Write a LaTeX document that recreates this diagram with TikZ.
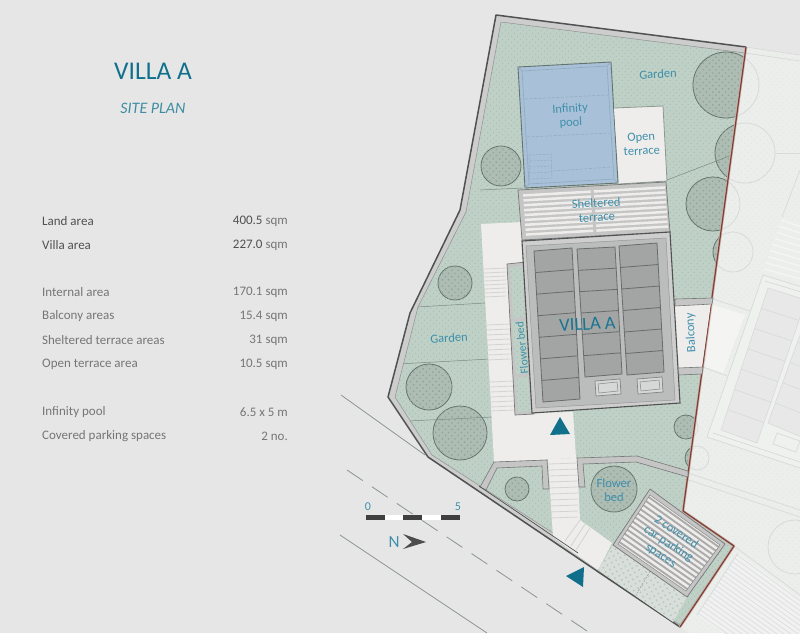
\documentclass[tikz,border=0pt]{standalone}
\usepackage{fontspec}
\setmainfont{Carlito}
\usetikzlibrary{calc,patterns,patterns.meta}
\definecolor{pagebg}{HTML}{E6E6E6}
\definecolor{nbbg}{HTML}{ECEEEC}
\definecolor{nbdot}{HTML}{E3E6E4}
\definecolor{nbline}{HTML}{D8DAD9}
\definecolor{nbpanel}{HTML}{E7E8E7}
\definecolor{nbwhite}{HTML}{F4F4F2}
\definecolor{band}{HTML}{CCCDCC}
\definecolor{edgedark}{HTML}{505252}
\definecolor{green}{HTML}{BFD1C6}
\definecolor{greendot}{HTML}{A3B8AB}
\definecolor{treefill}{HTML}{ADBDB3}
\definecolor{treedot}{HTML}{93A59B}
\definecolor{treeline}{HTML}{64736C}
\definecolor{pool}{HTML}{A9C1D8}
\definecolor{poolin}{HTML}{8FA9BC}
\definecolor{pale}{HTML}{EEEDEB}
\definecolor{wallg}{HTML}{C4C5C4}
\definecolor{wallline}{HTML}{777878}
\definecolor{roof}{HTML}{BBBCBC}
\definecolor{panelg}{HTML}{A3A4A4}
\definecolor{panell}{HTML}{6A6B6B}
\definecolor{teal}{HTML}{10708C}
\definecolor{lab}{HTML}{3F8FAB}
\definecolor{redl}{HTML}{7A3F37}
\definecolor{redh}{HTML}{CFB0A8}
\definecolor{pavers}{HTML}{D8DEDA}
\definecolor{paverd}{HTML}{B9C4BD}
\definecolor{txtd}{HTML}{505050}
\definecolor{txtl}{HTML}{767676}
\tikzset{
  x=1pt,y=-1pt,
  lbl/.style={text=lab,inner sep=0pt,align=center,rotate=3,font=\fontsize{12.5}{14}\selectfont},
  rowl/.style={inner sep=0pt,anchor=west,font=\fontsize{13}{15}\selectfont},
  rowr/.style={inner sep=0pt,anchor=east,font=\fontsize{13}{15}\selectfont},
  gardenfill/.style={fill=green,postaction={pattern={Dots[distance=4pt,radius=0.6pt,angle=45]},pattern color=greendot}},
  nbfill/.style={fill=nbbg,postaction={pattern={Dots[distance=4pt,radius=0.6pt,angle=45]},pattern color=nbdot}},
  treeshape/.style={fill=treefill,draw=treeline,line width=0.8pt,postaction={pattern={Dots[distance=4.5pt,radius=1pt,angle=45]},pattern color=treedot}},
  treefaint/.style={draw=nbline,line width=0.8pt,fill=nbbg,postaction={pattern={Dots[distance=4.5pt,radius=0.8pt,angle=45]},pattern color=nbdot}},
  wallband/.style={fill=wallg,draw=wallline,line width=0.6pt},
  thinline/.style={draw=treeline!75!green,line width=0.5pt},
  nbthin/.style={draw=nbline,line width=0.7pt},
  steps/.style={draw=band!80!pale,line width=0.8pt},
  marker/.style={fill=teal,draw=none},
}
% quad with subdivisions: corners tl tr br bl, rows
\newcommand{\rowquad}[6]{%
  \draw[#6] (#1) -- (#2) -- (#3) -- (#4) -- cycle;
  \foreach \k in {1,...,\numexpr#5-1\relax}{%
    \draw[#6,fill=none] ($(#1)!\k/#5!(#4)$) -- ($(#2)!\k/#5!(#3)$);}%
}
% stripes between edges a-d and b-c
\newcommand{\stripeset}[7]{%
  \foreach \k in {1,...,#5}{%
    \draw[#6,line width=#7] ($(#1)!{(\k-0.5)/#5}!(#4)$) -- ($(#2)!{(\k-0.5)/#5}!(#3)$);}%
}
\begin{document}
\begin{tikzpicture}
\path[use as bounding box] (0,0) rectangle (800,633);
\clip (0,0) rectangle (800,633);
\fill[pagebg] (0,0) rectangle (800,633);

% --- neighbouring plot (faded) ---
\path[nbfill] (746,47) -- (800,55) -- (800,633) -- (690,633) -- (680,627) -- (734,546) -- (683,511) -- cycle;
\draw[nbthin] (746,47) -- (800,55);
\draw[nbthin] (745,53) -- (800,61);
\draw[nbthin] (745,153) -- (800,153);
\draw[nbthin] (800,170) -- (782,217);
% neighbour sheltered terrace
\coordinate (ta) at (782,217); \coordinate (tb) at (815,228); \coordinate (tc) at (800,282); \coordinate (td) at (763,272);
\fill[nbbg] (ta) -- (tb) -- (tc) -- (td) -- cycle;
\stripeset{ta}{tb}{tc}{td}{9}{nbwhite}{1.6pt}
% neighbour villa
\fill[nbwhite] (713,305) -- (745,315) -- (723,373) -- (705,367) -- cycle;
\draw[nbthin] (713,299) -- (750,311);
\draw[nbthin] (703,367) -- (727,376);
\draw[nbthin,fill=nbbg!85!white] (763,275) -- (860,305) -- (800,468) -- (707,437) -- cycle;
\draw[nbthin] (765,281) -- (860,310);
\draw[nbthin] (713,433) -- (800,462);
\coordinate (na) at (768,288); \coordinate (nb) at (806,300); \coordinate (nc) at (757,443); \coordinate (nd) at (721,430);
\rowquad{na}{nb}{nc}{nd}{7}{draw=nbline,fill=nbpanel,line width=0.6pt}
\coordinate (oa) at (812,302); \coordinate (ob) at (850,314); \coordinate (oc) at (804,438); \coordinate (od) at (768,423);
\rowquad{oa}{ob}{oc}{od}{6}{draw=nbline,fill=nbpanel,line width=0.6pt}
\draw[nbthin,fill=nbbg!85!white] (777,433) -- (800,441) -- (796,452) -- (773,444) -- cycle;
% neighbour walls and parking
\draw[nbthin] (688,473) -- (800,510);
\draw[nbthin] (686,479) -- (800,517);
\coordinate (pa) at (738,553); \coordinate (pb) at (830,620); \coordinate (pc) at (790,680); \coordinate (pd) at (697,615);
\fill[nbbg!80!white] (pa) -- (pb) -- (pc) -- (pd) -- cycle;
\stripeset{pa}{pb}{pc}{pd}{18}{nbline!75!nbbg}{0.7pt}
\draw[nbthin] (pa) -- (pd);
\draw[nbthin] (734,546) -- (800,595);
\foreach \x/\y/\r in {726/85/33,745/153/30,713/204/27,733/252/20,686/427/12,697/458/12,795/547/27}{
  \path[treefaint] (\x,\y) circle[radius=\r];
}

% --- road ---
\draw[draw=treeline!70!pagebg,line width=0.8pt] (341,395) -- (425,455);
\draw[draw=treeline!70!pagebg,line width=0.8pt] (340,535) -- (487,633);
\coordinate (rd1) at (347,470); \coordinate (rd2) at (590,633);
\draw[draw=treeline!70!pagebg,line width=0.8pt,dash pattern=on 19pt off 11pt] (rd1) -- (rd2);

% --- plot ---
\path[fill=band] (496,15) -- (746,47) -- (683,511) -- (734,546) -- (680,627) -- (428,457) -- (388,397) -- (410,313) -- (460,210) -- cycle;
\path[gardenfill,draw=wallline!70!band,line width=0.5pt] (501,22) -- (745,53) -- (683,511) -- (733,546) -- (680,625) -- (578,556) -- (553,533) -- (432,455) -- (395,397) -- (418,307) -- (466,212) -- cycle;
\begin{scope}
  \clip (501,22) -- (745,53) -- (683,511) -- (733,546) -- (680,625) -- (578,556) -- (553,533) -- (432,455) -- (395,397) -- (418,307) -- (466,212) -- cycle;
  \foreach \x/\y/\r in {726/85/33,745/153/30,713/204/27,733/252/20,501/166/20,455/283/17,429/387/23,460/433/27,686/427/12,697/458/12,517/489/12,614/489/23}{
    \path[treeshape] (\x,\y) circle[radius=\r];
  }
  \draw[thinline] (480,190) -- (523,188);
  \draw[thinline] (667,180) -- (745,150);
  \draw[thinline] (417,307) -- (485,303);
  \draw[thinline] (398,364) -- (490,359);
  \draw[thinline] (408,421) -- (493,417);
\end{scope}
\draw[edgedark,line width=1.5pt,line join=round] (746,47) -- (496,15) -- (460,210) -- (410,313) -- (388,397) -- (428,457) -- (680,627);
\draw[redh,line width=2.6pt,line join=round] (746,47) -- (683,511) -- (734,546) -- (680,627);
\draw[redl,line width=1.2pt,line join=round] (746,47) -- (683,511) -- (734,546) -- (680,627);

% --- white paths ---
\path[fill=pale] (481,224) -- (522,222) -- (532,413) -- (573,412) -- (576,458) -- (494,462) -- cycle;
\path[fill=pale] (548,459) -- (577,458) -- (580,520) -- (612,543) -- (598,570) -- (578,556) -- (553,537) -- cycle;
\foreach \y in {269,273,277,281,285,289,293,297}{\draw[steps] (484,\y) -- (506,\y-1);}
\foreach \y in {325,330,335,340,345,350,355,360}{\draw[steps] (487,\y) -- (510,\y-1);}
\foreach \y in {382,387,392,397,402,407,411}{\draw[steps] (490,\y) -- (514,\y-1);}
\foreach \y in {464,470,476,482,488,494,500,506,512,518}{\draw[steps] (549,\y) -- (578,\y-1);}
\draw[steps] (580,520) -- (565,541); \draw[steps] (585,524) -- (571,546); \draw[steps] (590,528) -- (576,550);

% --- inner walls ---
\path[wallband] (480,487) -- (494,462) -- (547,460) -- (549,489) -- (543,489) -- (542,466) -- (497,468) -- (486,490) -- cycle;
\path[wallband] (579,487) -- (577,458) -- (637,456) -- (688,471) -- (688,477) -- (636,462) -- (583,464) -- (585,487) -- cycle;
\draw[edgedark,line width=0.7pt] (479,486) -- (578,553);

% --- pool ---
\coordinate (pl1) at (518,67); \coordinate (pl2) at (611,62); \coordinate (pl3) at (618,183); \coordinate (pl4) at (525,188);
\draw[fill=pool,draw=treeline,line width=0.9pt] (pl1) -- (pl2) -- (pl3) -- (pl4) -- cycle;
\draw[poolin,line width=0.6pt] (522,71) -- (607,66) -- (614,179) -- (529,184) -- cycle;
\draw[poolin,line width=0.5pt] (pl1) -- (522,71); \draw[poolin,line width=0.5pt] (pl2) -- (607,66);
\draw[poolin,line width=0.5pt] (pl3) -- (614,179); \draw[poolin,line width=0.5pt] (pl4) -- (529,184);
\draw[poolin,line width=0.5pt,dash pattern=on 3pt off 1.5pt] (525,99) -- (608,95);
\draw[poolin,line width=0.5pt,dash pattern=on 3pt off 1.5pt] (527,137) -- (610,133);
\draw[poolin,line width=0.5pt,dash pattern=on 3pt off 1.5pt] (553,171) -- (612,167);
\draw[poolin,line width=0.5pt,dash pattern=on 2pt off 1.5pt] (529,155) -- (551,154) -- (552,178) -- (530,179) -- cycle;
\foreach \y in {161,167,173}{\draw[poolin,line width=0.5pt,dash pattern=on 2pt off 1.5pt] (530,\y) -- (552,\y-1);}

% --- open terrace ---
\draw[fill=pale,draw=treeline!70!pale,line width=0.8pt] (614,108) -- (663,106) -- (667,181) -- (619,184);

% --- sheltered terrace ---
\coordinate (sa) at (518,190); \coordinate (sb) at (666,182); \coordinate (sc) at (670,232); \coordinate (sd) at (522,240);
\draw[fill=wallg,draw=wallline,line width=0.7pt] (sa) -- (sb) -- (sc) -- (sd) -- cycle;
\coordinate (si) at (523,193); \coordinate (sj) at (665,185); \coordinate (sk) at (668,229); \coordinate (sl) at (526,237);
\stripeset{si}{sj}{sk}{sl}{9}{pale}{2.5pt}
\draw[wallg,line width=3pt] (592,188) -- (595,234);

% --- flower bed beside villa ---
\path[fill=wallg,draw=wallline,line width=0.7pt] (507,264) -- (526,262) -- (534,414) -- (515,415) -- cycle;
\path[gardenfill] (510,267) -- (523,266) -- (525,317) -- (513,318) -- cycle;
\path[gardenfill] (512,322) -- (526,321) -- (528,373) -- (516,374) -- cycle;
\path[gardenfill] (515,378) -- (528,377) -- (531,411) -- (518,412) -- cycle;

% --- villa ---
\coordinate (va) at (522,241); \coordinate (vb) at (670,232); \coordinate (vc) at (680,403); \coordinate (vd) at (532,413);
\draw[fill=wallg!85!white,draw=edgedark,line width=1.1pt] (va) -- (vb) -- (vc) -- (vd) -- cycle;
\draw[fill=roof,draw=roof!80!black,line width=0.5pt] (526,246) -- (666,238) -- (675,400) -- (536,408) -- cycle;
\coordinate (c1a) at (534,251); \coordinate (c1b) at (572,248); \coordinate (c1c) at (580,399); \coordinate (c1d) at (543,402);
\rowquad{c1a}{c1b}{c1c}{c1d}{7}{draw=panell,fill=panelg,line width=0.8pt}
\coordinate (c2a) at (577,249); \coordinate (c2b) at (615,247); \coordinate (c2c) at (622,374); \coordinate (c2d) at (585,377);
\rowquad{c2a}{c2b}{c2c}{c2d}{6}{draw=panell,fill=panelg,line width=0.8pt}
\coordinate (c3a) at (619,246); \coordinate (c3b) at (657,243); \coordinate (c3c) at (664,372); \coordinate (c3d) at (627,375);
\rowquad{c3a}{c3b}{c3c}{c3d}{6}{draw=panell,fill=panelg,line width=0.8pt}
\draw[fill=roof!60!white,draw=panell!70!roof,line width=0.7pt] (595,381) -- (620,379) -- (621,394) -- (596,396) -- cycle;
\draw[draw=panell!70!roof,line width=0.5pt] (598,384) -- (617,382) -- (618,391) -- (599,393) -- cycle;
\draw[fill=roof!60!white,draw=panell!70!roof,line width=0.7pt] (637,379) -- (662,377) -- (663,392) -- (638,394) -- cycle;
\draw[draw=panell!70!roof,line width=0.5pt] (640,382) -- (659,380) -- (660,389) -- (641,391) -- cycle;

% --- balcony ---
\path[fill=pale] (675,305) -- (711,303) -- (702,367) -- (679,369) -- cycle;
\path[fill=wallg,draw=wallline,line width=0.6pt] (675,299) -- (713,298) -- (712,304) -- (675,306) -- cycle;
\path[fill=wallg,draw=wallline,line width=0.6pt] (678,368) -- (703,367) -- (702,374) -- (679,375) -- cycle;

% --- pavers and car park ---
\path[fill=pavers,postaction={pattern={Dots[distance=5pt,radius=1pt,angle=30]},pattern color=paverd}] (598,570) -- (613,545) -- (687,597) -- (673,622) -- cycle;
\draw[treeline!60!pavers,line width=0.5pt,dash pattern=on 2pt off 1.5pt] (652,568) -- (637,593);
\coordinate (ca) at (650,489); \coordinate (cb) at (725,544); \coordinate (cc) at (687,597); \coordinate (cd) at (613,545);
\draw[fill=wallg,draw=wallline,line width=0.7pt] (ca) -- (cb) -- (cc) -- (cd) -- cycle;
\coordinate (ci) at (650,495); \coordinate (cj) at (720,545); \coordinate (ck) at (686,591); \coordinate (cl) at (618,544);
\fill[pale] (ci) -- (cj) -- (ck) -- (cl) -- cycle;
\stripeset{ci}{cj}{ck}{cl}{12}{panelg!80!wallg}{1.9pt}
\draw[wallline!80!wallg,line width=0.5pt] (ci) -- (cj) -- (ck) -- (cl) -- cycle;

% --- direction markers ---
\path[marker] (560,417) -- (570,434) -- (550,435) -- cycle;
\path[marker] (584,567) -- (583,587) -- (566,576) -- cycle;

% --- scale and north ---
\fill[white] (366,514.5) rectangle (460,519.5);
\foreach \a/\b in {366/385,403/422,441/460}{\fill[black!75] (\a,514.5) rectangle (\b,519.5);}
\node[text=lab,inner sep=0pt,font=\fontsize{12}{14}\selectfont] (sc0) at (368,507) {0};
\node[text=lab,inner sep=0pt,font=\fontsize{12}{14}\selectfont] (sc5) at (458,507) {5};
\node[text=lab,inner sep=0pt,font=\fontsize{17}{19}\selectfont] (north) at (394,542) {N};
\path[fill=black!70] (403,534) -- (426,542) -- (403,549) -- (412,542) -- cycle;

% --- labels on the plan ---
\node[lbl] (lgt) at (658,74) {Garden};
\node[lbl] (lpool) at (570.5,116) {Infinity\\pool};
\node[lbl] (lopen) at (641.5,144) {Open\\terrace};
\node[lbl] (lshel) at (596.5,210) {Sheltered\\terrace};
\node[lbl] (lgl) at (449,338) {Garden};
\node[lbl,font=\fontsize{18.5}{20}\selectfont,text=teal!85!lab] (lvil) at (587.5,324) {VILLA A};
\node[lbl,rotate=93,font=\fontsize{11.5}{13}\selectfont] (lfb) at (522,348) {Flower bed};
\node[lbl,rotate=90] (lbal) at (691,333) {Balcony};
\node[lbl,rotate=-3] (lfb2) at (614,490) {Flower\\bed};
\node[lbl,rotate=-36] (lcar) at (668.5,544) {2 covered\\car parking\\spaces};

% --- title and table ---
\node[text=teal,inner sep=0pt,font=\fontsize{25.5}{28}\selectfont] (title) at (153,71) {VILLA A};
\node[text=teal!80!white,inner sep=0pt,font=\fontsize{16}{18}\selectfont\itshape] (sub) at (153,108) {SITE PLAN};
\newcommand{\unitc}[1]{{\color{txtl}#1}}
\node[rowl,text=txtd] (t1) at (42,221) {Land area};
\node[rowr,text=txtd] (v1) at (288,221) {400.5 \unitc{sqm}};
\node[rowl,text=txtd] (t2) at (42,245) {Villa area};
\node[rowr,text=txtd] (v2) at (288,245) {227.0 \unitc{sqm}};
\node[rowl,text=txtl] (t3) at (42,292.5) {Internal area};
\node[rowr,text=txtl] (v3) at (288,292.5) {170.1 sqm};
\node[rowl,text=txtl] (t4) at (42,316.5) {Balcony areas};
\node[rowr,text=txtl] (v4) at (288,316.5) {15.4 sqm};
\node[rowl,text=txtl] (t5) at (42,340.5) {Sheltered terrace areas};
\node[rowr,text=txtl] (v5) at (288,340.5) {31 sqm};
\node[rowl,text=txtl] (t6) at (42,364.5) {Open terrace area};
\node[rowr,text=txtl] (v6) at (288,364.5) {10.5 sqm};
\node[rowl,text=txtl] (t7) at (42,412.5) {Infinity pool};
\node[rowr,text=txtl] (v7) at (288,412.5) {6.5 x 5 m};
\node[rowl,text=txtl] (t8) at (42,436.5) {Covered parking spaces};
\node[rowr,text=txtl] (v8) at (288,436.5) {2 no.};
\end{tikzpicture}
\end{document}
